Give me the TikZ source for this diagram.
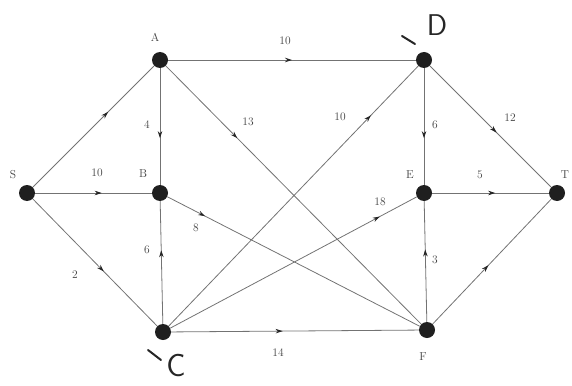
\documentclass[tikz,border=0pt]{standalone}
\usetikzlibrary{decorations.markings,arrows.meta}
\begin{document}
\begin{tikzpicture}[x=1pt,y=-1pt,
  vert/.style={circle,fill=black!88,inner sep=0pt,minimum size=16pt},
  edge/.style={draw=black!55,line width=0.8pt,postaction={decorate},
    decoration={markings,mark=at position #1 with {\arrow[black!85]{Stealth[length=7pt,width=4.5pt]}}}},
  edge/.default=0.55,
  lbl/.style={font=\fontsize{11.5}{13}\selectfont,text=black!75,inner sep=0pt},
  hand/.style={font=\sffamily\fontsize{30}{32}\selectfont,text=black!85,inner sep=0pt},
  tick/.style={draw=black!85,line width=2pt,line cap=round}]
\useasboundingbox (0,0) rectangle (572,385);
% vertices
\node[vert] (S) at (27,193) {};
\node[vert] (A) at (160,60) {};
\node[vert] (B) at (160,193) {};
\node[vert] (C) at (163,332) {};
\node[vert] (D) at (424,60) {};
\node[vert] (E) at (424,193) {};
\node[vert] (F) at (427,330) {};
\node[vert] (T) at (557,193) {};
% edges
\draw[edge=0.62] (S) -- (A);
\draw[edge=0.57] (S) -- (B);
\draw[edge=0.57] (S) -- (C);
\draw[edge=0.5] (A) -- (D);
\draw[edge=0.6] (A) -- (B);
\draw[edge=0.28] (A) -- (F);
\draw[edge=0.15] (B) -- (F);
\draw[edge=0.6] (C) -- (B);
\draw[edge=0.81] (C) -- (D);
\draw[edge=0.85] (C) -- (E);
\draw[edge=0.45] (C) -- (F);
\draw[edge=0.6] (D) -- (E);
\draw[edge=0.55] (D) -- (T);
\draw[edge=0.54] (E) -- (T);
\draw[edge=0.6] (F) -- (E);
\draw[edge=0.47] (F) -- (T);
% vertex names
\node[lbl] (nA) at (155,37) {A};
\node[lbl] (nS) at (13,175) {S};
\node[lbl] (nB) at (143,174) {B};
\node[lbl] (nE) at (410,175) {E};
\node[lbl] (nT) at (565,175) {T};
\node[lbl] (nF) at (423,357) {F};
% weights
\node[lbl] (wAD) at (285,41) {10};
\node[lbl] (wAB) at (147,125) {4};
\node[lbl] (wAF) at (248,122) {13};
\node[lbl] (wCD) at (340,117) {10};
\node[lbl] (wDE) at (435,125) {6};
\node[lbl] (wDT) at (510,118) {12};
\node[lbl] (wSB) at (97,173) {10};
\node[lbl] (wET) at (480,175) {5};
\node[lbl] (wBF) at (196,228) {8};
\node[lbl] (wCB) at (147,250) {6};
\node[lbl] (wSC) at (75,275) {2};
\node[lbl] (wCE) at (380,202) {18};
\node[lbl] (wFE) at (435,260) {3};
\node[lbl] (wCF) at (278,353) {14};
% handwritten marks
\node[hand] (hD) at (437,25) {D};
\node[hand,font=\sffamily\fontsize{32}{34}\selectfont] (hC) at (176,366) {C};
\draw[tick] (402,36) -- (415,44);
\draw[tick] (148,350) -- (161,360);
\end{tikzpicture}
\end{document}
